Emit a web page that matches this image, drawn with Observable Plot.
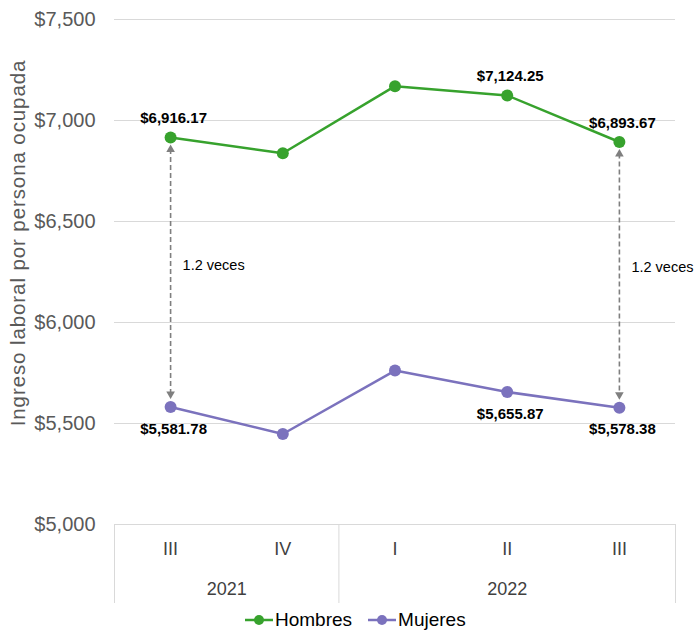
<!DOCTYPE html>
<html><head><meta charset="utf-8">
<script src="https://cdn.jsdelivr.net/npm/d3@7"></script>
<script src="https://cdn.jsdelivr.net/npm/@observablehq/plot@0.6"></script>
<style>
body{margin:0;background:#fff;font-family:"Liberation Sans",Arial,sans-serif;}
#legend{display:flex;height:28px;align-items:center;padding-left:245px;font-size:19px;color:#000;}
.item{display:flex;align-items:center;margin-right:16px;}
.item svg{margin-right:2px;}
</style></head><body>
<div id="chart"></div>
<div id="legend"></div>
<script>
const quarters = ["III","IV","I","II","III"];
const quarterYears = ["2021","2021","2022","2022","2022"];
const hombres = [6916.17, 6838, 7170, 7124.25, 6893.67];
const mujeres = [5581.78, 5448, 5762, 5655.87, 5578.38];
const labeledIdx = [0, 3, 4];
const ratioIdx = [0, 4];
const ratioText = "1.2 veces";
const yTicks = [5000, 5500, 6000, 6500, 7000, 7500];
const yLabel = "Ingreso laboral por persona ocupada";
const seriesNames = ["Hombres", "Mujeres"];
const seriesColors = ["#37a22d", "#7b72bd"];

const data = [];
quarters.forEach((q, i) => {
  data.push({i: i + 0.5, value: hombres[i], series: "Hombres", idx: i});
  data.push({i: i + 0.5, value: mujeres[i], series: "Mujeres", idx: i});
});
const labeled = data.filter(d => labeledIdx.includes(d.idx));
const ratioData = ratioIdx.map(i => ({i: i + 0.5, h: hombres[i], m: mujeres[i], mid: (hombres[i] + mujeres[i]) / 2}));
const qData = quarters.map((q, i) => ({i: i + 0.5, q}));
const yearGroups = [];
quarterYears.forEach((y, i) => {
  const g = yearGroups.find(g => g.year === y);
  if (g) g.end = i + 1; else yearGroups.push({year: y, start: i, end: i + 1});
});
const boundaries = [0, ...yearGroups.map(g => g.end)];
yearGroups.forEach(g => g.center = (g.start + g.end) / 2);

const fmt = d3.format("$,.2f");
const color = {domain: seriesNames, range: seriesColors};

const chart = Plot.plot({
  width: 697, height: 606,
  marginLeft: 114, marginRight: 22, marginTop: 19, marginBottom: 82,
  style: {fontFamily: '"Liberation Sans", Arial, sans-serif', background: "#fff"},
  x: {type: "linear", domain: [0, quarters.length], axis: null},
  y: {domain: [5000, 7500], axis: null},
  color,
  marks: [
    Plot.ruleY(yTicks, {stroke: "#d9d9d9", strokeWidth: 1}),
    Plot.ruleX(boundaries, {y1: 5000, y2: 5000, insetBottom: -79, stroke: "#d9d9d9"}),
    Plot.axisY(yTicks, {tickSize: 0, tickPadding: 19, tickFormat: d3.format("$,"), fontSize: 20, fill: "#595959", label: null}),
    Plot.text([yLabel], {frameAnchor: "left", textAnchor: "middle", rotate: -90, dx: -96, dy: -29, fontSize: 20.5, fill: "#595959"}),
    Plot.ruleX(ratioData, {x: "i", y1: "h", y2: "m", insetTop: 12, insetBottom: 14, stroke: "#7f7f7f", strokeWidth: 1.6, strokeDasharray: "5,3"}),
    Plot.dot(ratioData, {x: "i", y: "h", dy: 12, symbol: "triangle", r: 3.2, fill: "#7f7f7f"}),
    Plot.dot(ratioData, {x: "i", y: "m", dy: -13, symbol: "triangle", rotate: 180, r: 3.2, fill: "#7f7f7f"}),
    Plot.text(ratioData, {x: "i", y: "mid", text: () => ratioText, textAnchor: "start", dx: 12, dy: -7, fontSize: 14.5, fill: "#000"}),
    Plot.line(data, {x: "i", y: "value", stroke: "series", z: "series", strokeWidth: 2.5}),
    Plot.dot(data, {x: "i", y: "value", fill: "series", r: 6}),
    Plot.text(labeled.filter(d => d.series === "Hombres"), {x: "i", y: "value", text: d => fmt(d.value), dy: -19, dx: 3, fontSize: 15, fontWeight: "bold", fill: "#000"}),
    Plot.text(labeled.filter(d => d.series === "Mujeres"), {x: "i", y: "value", text: d => fmt(d.value), dy: 22, dx: 3, fontSize: 15, fontWeight: "bold", fill: "#000"}),
    Plot.text(qData, {x: "i", y: 5000, text: "q", dy: 25, fontSize: 18, fill: "#404040"}),
    Plot.text(yearGroups, {x: "center", y: 5000, text: "year", dy: 65, fontSize: 18, fill: "#404040"})
  ]
});
document.getElementById("chart").appendChild(chart);
d3.select(chart).selectAll("text").filter(function() { return this.textContent === yLabel; }).attr("letter-spacing", "0.9px");

const legend = document.getElementById("legend");
seriesNames.forEach((name, k) => {
  const item = document.createElement("div");
  item.className = "item";
  item.innerHTML = `<svg width="28" height="12"><line x1="0" y1="6" x2="28" y2="6" stroke="${seriesColors[k]}" stroke-width="2.5"/><circle cx="14" cy="6" r="5" fill="${seriesColors[k]}"/></svg><span>${name}</span>`;
  legend.appendChild(item);
});
</script>
</body></html>
